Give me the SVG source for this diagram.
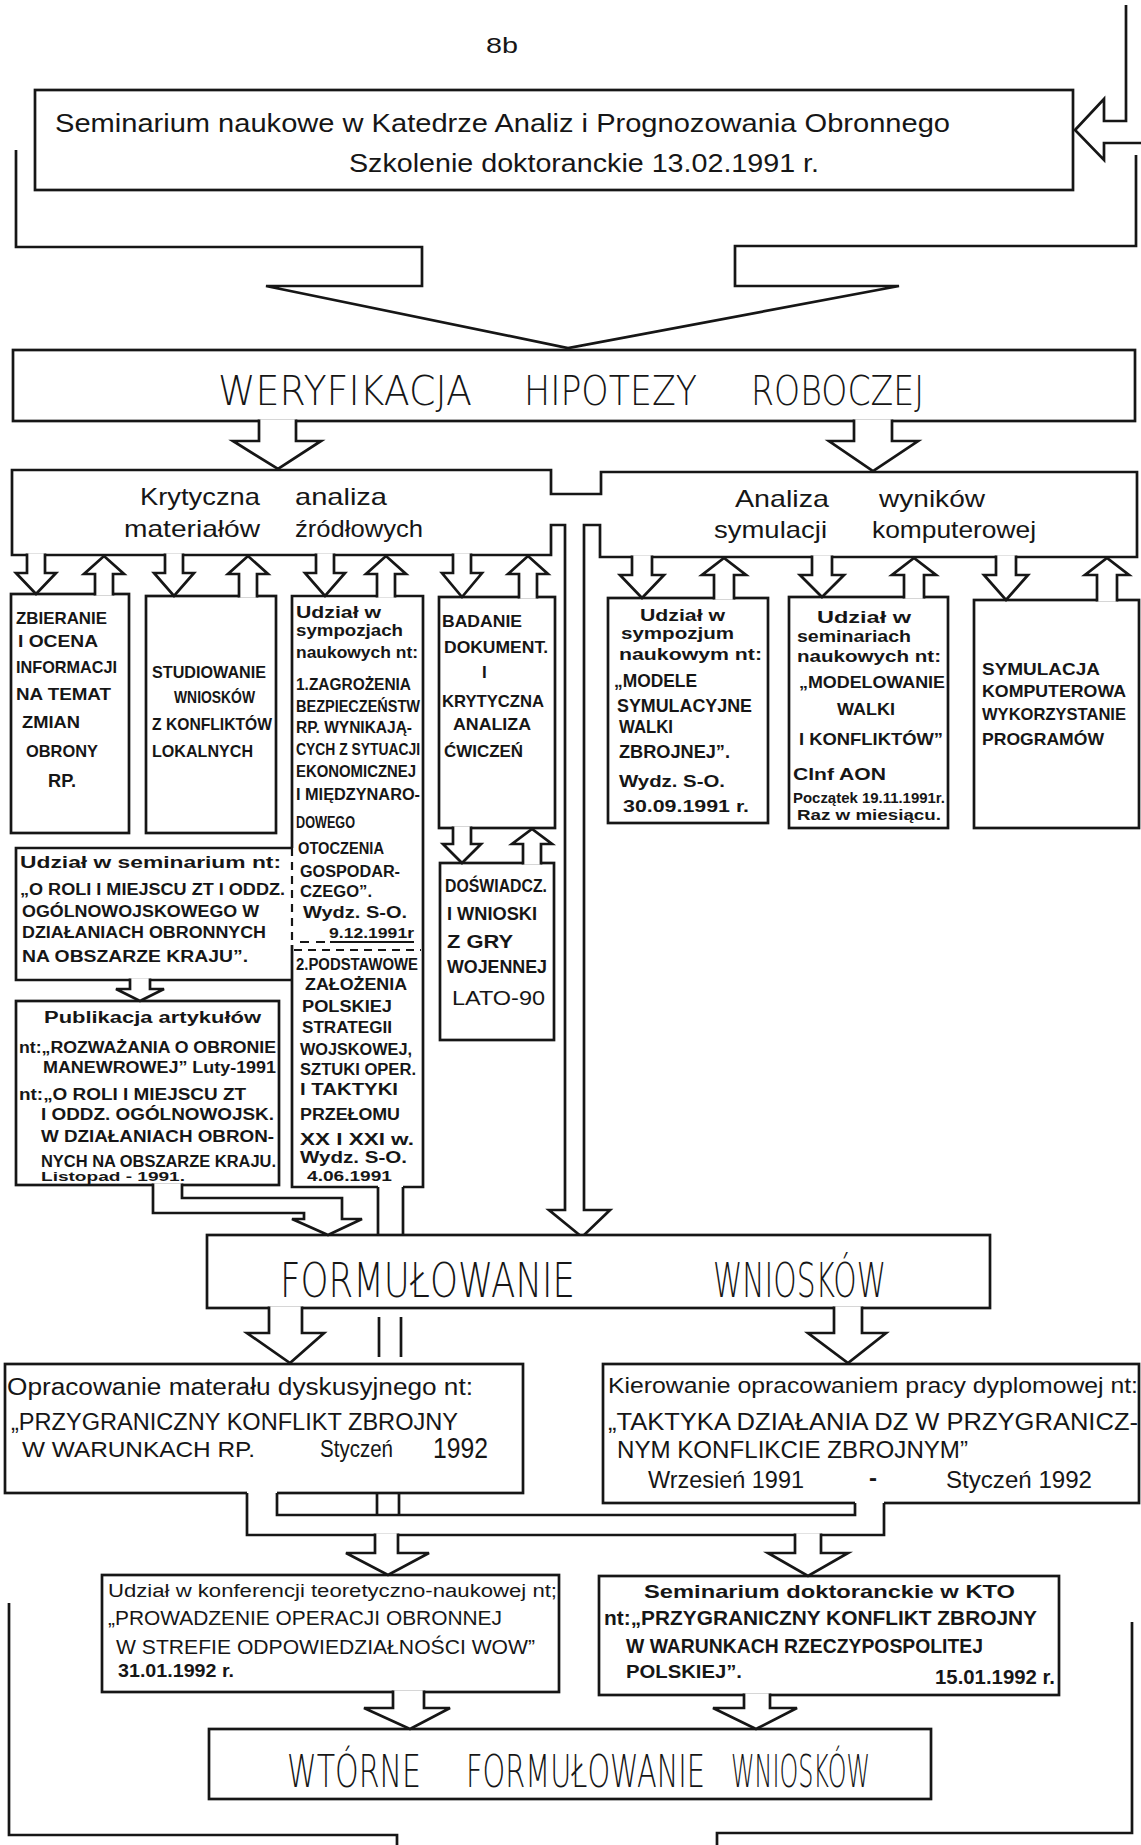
<svg xmlns="http://www.w3.org/2000/svg" width="1141" height="1845" viewBox="0 0 1141 1845">
<style>
.bg{fill:#fff}
.box{fill:#fff;stroke:#161616;stroke-width:2.7}
.ln{fill:none;stroke:#161616;stroke-width:2.7}
.dash{fill:none;stroke:#161616;stroke-width:2.2;stroke-dasharray:8 6}
.arw{fill:#fff;stroke:#161616;stroke-width:2.7;stroke-linejoin:miter}
.wf{fill:#fff;stroke:none}
text{font-family:"Liberation Sans",Arial,sans-serif;fill:#161616}
.h{font-family:"DejaVu Sans","Liberation Sans",sans-serif;font-weight:300}
.b{font-weight:bold}
</style>
<rect class="bg" x="0" y="0" width="1141" height="1845"/>
<text x="486" y="53" font-size="22" textLength="32" lengthAdjust="spacingAndGlyphs">8b</text>

<g id="n-top">
<rect class="box" x="35" y="90" width="1038" height="100"/>
<text x="55" y="132" font-size="26" textLength="895" lengthAdjust="spacingAndGlyphs">Seminarium naukowe w Katedrze Analiz i Prognozowania Obronnego</text>
<text x="349" y="172" font-size="26" textLength="470" lengthAdjust="spacingAndGlyphs">Szkolenie doktoranckie 13.02.1991 r.</text>
</g>

<g id="n-weryfikacja">
<rect class="box" x="13" y="350" width="1122" height="71"/>
<text class="h" x="218" y="405" font-size="41" textLength="254" lengthAdjust="spacingAndGlyphs">WERYFIKACJA</text>
<text class="h" x="524" y="405" font-size="41" textLength="173" lengthAdjust="spacingAndGlyphs">HIPOTEZY</text>
<text class="h" x="751" y="405" font-size="41" textLength="173" lengthAdjust="spacingAndGlyphs">ROBOCZEJ</text>
</g>

<g id="n-analiza">
<path class="box" d="M12 470 H551 V494 H601 V472 H1137 V557 H600 V525 H584 V1210 H610 L582 1237 L549 1210 H565 V525 H551 V555 H12 Z"/>
<text x="140" y="505" font-size="24" textLength="120" lengthAdjust="spacingAndGlyphs">Krytyczna</text>
<text x="295" y="505" font-size="24" textLength="92" lengthAdjust="spacingAndGlyphs">analiza</text>
<text x="124" y="537" font-size="24" textLength="136" lengthAdjust="spacingAndGlyphs">materiałów</text>
<text x="295" y="537" font-size="24" textLength="128" lengthAdjust="spacingAndGlyphs">źródłowych</text>
<text x="735" y="507" font-size="24" textLength="94" lengthAdjust="spacingAndGlyphs">Analiza</text>
<text x="879" y="507" font-size="24" textLength="106" lengthAdjust="spacingAndGlyphs">wyników</text>
<text x="714" y="538" font-size="24" textLength="113" lengthAdjust="spacingAndGlyphs">symulacji</text>
<text x="872" y="538" font-size="24" textLength="164" lengthAdjust="spacingAndGlyphs">komputerowej</text>
</g>

<g id="n-zbieranie">
<rect class="box" x="11" y="594" width="118" height="239"/>
<text class="b" x="16" y="624" font-size="17" textLength="91" lengthAdjust="spacingAndGlyphs">ZBIERANIE</text>
<text class="b" x="18" y="647" font-size="17" textLength="80" lengthAdjust="spacingAndGlyphs">I OCENA</text>
<text class="b" x="16" y="673" font-size="17" textLength="101" lengthAdjust="spacingAndGlyphs">INFORMACJI</text>
<text class="b" x="16" y="700" font-size="17" textLength="95" lengthAdjust="spacingAndGlyphs">NA TEMAT</text>
<text class="b" x="22" y="728" font-size="17" textLength="58" lengthAdjust="spacingAndGlyphs">ZMIAN</text>
<text class="b" x="26" y="757" font-size="17" textLength="72" lengthAdjust="spacingAndGlyphs">OBRONY</text>
<text class="b" x="48" y="787" font-size="18" textLength="28" lengthAdjust="spacingAndGlyphs">RP.</text>
</g>

<g id="n-studiowanie">
<rect class="box" x="146" y="596" width="130" height="237"/>
<text class="b" x="152" y="678" font-size="17" textLength="114" lengthAdjust="spacingAndGlyphs">STUDIOWANIE</text>
<text class="b" x="174" y="703" font-size="17" textLength="81" lengthAdjust="spacingAndGlyphs">WNIOSKÓW</text>
<text class="b" x="152" y="730" font-size="17" textLength="120" lengthAdjust="spacingAndGlyphs">Z KONFLIKTÓW</text>
<text class="b" x="152" y="757" font-size="17" textLength="101" lengthAdjust="spacingAndGlyphs">LOKALNYCH</text>
</g>

<g id="n-sympozja">
<path class="ln" d="M292 945 V1187 H378 M403 1187 H423 V596 H292 V848"/>
<path class="dash" d="M292 848 V945"/>
<path class="dash" d="M294 950 H421"/>
<path class="ln" d="M300 942 H309 M316 942 H325 M330 942 H414" style="stroke-width:1.8"/>
<text class="b" x="296" y="618" font-size="17" textLength="85" lengthAdjust="spacingAndGlyphs">Udział w</text>
<text class="b" x="296" y="636" font-size="17" textLength="107" lengthAdjust="spacingAndGlyphs">sympozjach</text>
<text class="b" x="296" y="658" font-size="17" textLength="122" lengthAdjust="spacingAndGlyphs">naukowych nt:</text>
<text class="b" x="296" y="690" font-size="16" textLength="115" lengthAdjust="spacingAndGlyphs">1.ZAGROŻENIA</text>
<text class="b" x="296" y="712" font-size="16" textLength="124" lengthAdjust="spacingAndGlyphs">BEZPIECZEŃSTW</text>
<text class="b" x="296" y="733" font-size="16" textLength="116" lengthAdjust="spacingAndGlyphs">RP. WYNIKAJĄ-</text>
<text class="b" x="296" y="755" font-size="16" textLength="124" lengthAdjust="spacingAndGlyphs">CYCH Z SYTUACJI</text>
<text class="b" x="296" y="777" font-size="16" textLength="120" lengthAdjust="spacingAndGlyphs">EKONOMICZNEJ</text>
<text class="b" x="296" y="800" font-size="16" textLength="124" lengthAdjust="spacingAndGlyphs">I MIĘDZYNARO-</text>
<text class="b" x="296" y="828" font-size="16" textLength="59" lengthAdjust="spacingAndGlyphs">DOWEGO</text>
<text class="b" x="298" y="854" font-size="16" textLength="86" lengthAdjust="spacingAndGlyphs">OTOCZENIA</text>
<text class="b" x="300" y="877" font-size="16" textLength="100" lengthAdjust="spacingAndGlyphs">GOSPODAR-</text>
<text class="b" x="300" y="897" font-size="16" textLength="72" lengthAdjust="spacingAndGlyphs">CZEGO”.</text>
<text class="b" x="303" y="918" font-size="16" textLength="104" lengthAdjust="spacingAndGlyphs">Wydz. S-O.</text>
<text class="b" x="329" y="938" font-size="15" textLength="85" lengthAdjust="spacingAndGlyphs">9.12.1991r</text>
<text class="b" x="296" y="970" font-size="16" textLength="122" lengthAdjust="spacingAndGlyphs">2.PODSTAWOWE</text>
<text class="b" x="305" y="990" font-size="16" textLength="102" lengthAdjust="spacingAndGlyphs">ZAŁOŻENIA</text>
<text class="b" x="302" y="1012" font-size="16" textLength="90" lengthAdjust="spacingAndGlyphs">POLSKIEJ</text>
<text class="b" x="302" y="1033" font-size="16" textLength="90" lengthAdjust="spacingAndGlyphs">STRATEGII</text>
<text class="b" x="300" y="1055" font-size="16" textLength="112" lengthAdjust="spacingAndGlyphs">WOJSKOWEJ,</text>
<text class="b" x="300" y="1075" font-size="16" textLength="116" lengthAdjust="spacingAndGlyphs">SZTUKI OPER.</text>
<text class="b" x="300" y="1095" font-size="16" textLength="98" lengthAdjust="spacingAndGlyphs">I TAKTYKI</text>
<text class="b" x="300" y="1120" font-size="16" textLength="100" lengthAdjust="spacingAndGlyphs">PRZEŁOMU</text>
<text class="b" x="300" y="1145" font-size="16" textLength="114" lengthAdjust="spacingAndGlyphs">XX I XXI w.</text>
<text class="b" x="300" y="1163" font-size="16" textLength="107" lengthAdjust="spacingAndGlyphs">Wydz. S-O.</text>
<text class="b" x="307" y="1181" font-size="15" textLength="85" lengthAdjust="spacingAndGlyphs">4.06.1991</text>
</g>

<g id="n-badanie">
<rect class="box" x="439" y="597" width="116" height="231"/>
<text class="b" x="442" y="627" font-size="17" textLength="80" lengthAdjust="spacingAndGlyphs">BADANIE</text>
<text class="b" x="444" y="653" font-size="17" textLength="104" lengthAdjust="spacingAndGlyphs">DOKUMENT.</text>
<text class="b" x="482" y="678" font-size="17">I</text>
<text class="b" x="442" y="707" font-size="17" textLength="102" lengthAdjust="spacingAndGlyphs">KRYTYCZNA</text>
<text class="b" x="453" y="730" font-size="17" textLength="78" lengthAdjust="spacingAndGlyphs">ANALIZA</text>
<text class="b" x="444" y="757" font-size="17" textLength="79" lengthAdjust="spacingAndGlyphs">ĆWICZEŃ</text>
</g>

<g id="n-doswiadcz">
<rect class="box" x="440" y="863" width="114" height="177"/>
<text class="b" x="445" y="892" font-size="18" textLength="102" lengthAdjust="spacingAndGlyphs">DOŚWIADCZ.</text>
<text class="b" x="447" y="920" font-size="18" textLength="90" lengthAdjust="spacingAndGlyphs">I WNIOSKI</text>
<text class="b" x="447" y="948" font-size="18" textLength="66" lengthAdjust="spacingAndGlyphs">Z GRY</text>
<text class="b" x="447" y="973" font-size="18" textLength="100" lengthAdjust="spacingAndGlyphs">WOJENNEJ</text>
<text x="452" y="1005" font-size="21" textLength="93" lengthAdjust="spacingAndGlyphs">LATO-90</text>
</g>

<g id="n-seminarium">
<path class="ln" d="M292 848 H16 V980 H292"/>
<text class="b" x="20" y="868" font-size="16" textLength="261" lengthAdjust="spacingAndGlyphs">Udział w seminarium nt:</text>
<text class="b" x="20" y="895" font-size="16" textLength="265" lengthAdjust="spacingAndGlyphs">„O ROLI I MIEJSCU ZT I ODDZ.</text>
<text class="b" x="22" y="917" font-size="16" textLength="237" lengthAdjust="spacingAndGlyphs">OGÓLNOWOJSKOWEGO W</text>
<text class="b" x="22" y="938" font-size="16" textLength="244" lengthAdjust="spacingAndGlyphs">DZIAŁANIACH OBRONNYCH</text>
<text class="b" x="22" y="962" font-size="16" textLength="226" lengthAdjust="spacingAndGlyphs">NA OBSZARZE KRAJU”.</text>
</g>

<g id="n-publikacja">
<rect class="box" x="16" y="1001" width="263" height="184"/>
<text class="b" x="44" y="1023" font-size="16" textLength="217" lengthAdjust="spacingAndGlyphs">Publikacja artykułów</text>
<text class="b" x="19" y="1053" font-size="16" textLength="257" lengthAdjust="spacingAndGlyphs">nt:„ROZWAŻANIA O OBRONIE</text>
<text class="b" x="43" y="1073" font-size="16" textLength="233" lengthAdjust="spacingAndGlyphs">MANEWROWEJ” Luty-1991</text>
<text class="b" x="19" y="1100" font-size="16" textLength="227" lengthAdjust="spacingAndGlyphs">nt:„O ROLI I MIEJSCU ZT</text>
<text class="b" x="41" y="1120" font-size="16" textLength="233" lengthAdjust="spacingAndGlyphs">I ODDZ. OGÓLNOWOJSK.</text>
<text class="b" x="41" y="1142" font-size="16" textLength="233" lengthAdjust="spacingAndGlyphs">W DZIAŁANIACH OBRON-</text>
<text class="b" x="41" y="1167" font-size="16" textLength="235" lengthAdjust="spacingAndGlyphs">NYCH NA OBSZARZE KRAJU.</text>
<text class="b" x="41" y="1181" font-size="13" textLength="144" lengthAdjust="spacingAndGlyphs">Listopad - 1991.</text>
</g>

<g id="n-a1">
<rect class="box" x="608" y="598" width="160" height="225"/>
<text class="b" x="640" y="621" font-size="16" textLength="85" lengthAdjust="spacingAndGlyphs">Udział w</text>
<text class="b" x="621" y="639" font-size="16" textLength="113" lengthAdjust="spacingAndGlyphs">sympozjum</text>
<text class="b" x="619" y="660" font-size="16" textLength="143" lengthAdjust="spacingAndGlyphs">naukowym nt:</text>
<text class="b" x="614" y="687" font-size="18" textLength="83" lengthAdjust="spacingAndGlyphs">„MODELE</text>
<text class="b" x="617" y="712" font-size="18" textLength="135" lengthAdjust="spacingAndGlyphs">SYMULACYJNE</text>
<text class="b" x="619" y="733" font-size="18" textLength="54" lengthAdjust="spacingAndGlyphs">WALKI</text>
<text class="b" x="619" y="758" font-size="18" textLength="111" lengthAdjust="spacingAndGlyphs">ZBROJNEJ”.</text>
<text class="b" x="619" y="787" font-size="17" textLength="106" lengthAdjust="spacingAndGlyphs">Wydz. S-O.</text>
<text class="b" x="623" y="812" font-size="17" textLength="126" lengthAdjust="spacingAndGlyphs">30.09.1991 r.</text>
</g>

<g id="n-a2">
<rect class="box" x="789" y="597" width="159" height="231"/>
<text class="b" x="817" y="623" font-size="16" textLength="94" lengthAdjust="spacingAndGlyphs">Udział w</text>
<text class="b" x="797" y="642" font-size="16" textLength="114" lengthAdjust="spacingAndGlyphs">seminariach</text>
<text class="b" x="797" y="662" font-size="16" textLength="144" lengthAdjust="spacingAndGlyphs">naukowych nt:</text>
<text class="b" x="799" y="688" font-size="17" textLength="146" lengthAdjust="spacingAndGlyphs">„MODELOWANIE</text>
<text class="b" x="837" y="715" font-size="17" textLength="58" lengthAdjust="spacingAndGlyphs">WALKI</text>
<text class="b" x="799" y="745" font-size="17" textLength="144" lengthAdjust="spacingAndGlyphs">I KONFLIKTÓW”</text>
<text class="b" x="793" y="780" font-size="17" textLength="93" lengthAdjust="spacingAndGlyphs">CInf AON</text>
<text class="b" x="793" y="803" font-size="14" textLength="152" lengthAdjust="spacingAndGlyphs">Początek 19.11.1991r.</text>
<text class="b" x="797" y="820" font-size="15" textLength="144" lengthAdjust="spacingAndGlyphs">Raz w miesiącu.</text>
</g>

<g id="n-a3">
<rect class="box" x="974" y="600" width="165" height="228"/>
<text class="b" x="982" y="675" font-size="17" textLength="118" lengthAdjust="spacingAndGlyphs">SYMULACJA</text>
<text class="b" x="982" y="697" font-size="17" textLength="144" lengthAdjust="spacingAndGlyphs">KOMPUTEROWA</text>
<text class="b" x="982" y="720" font-size="17" textLength="144" lengthAdjust="spacingAndGlyphs">WYKORZYSTANIE</text>
<text class="b" x="982" y="745" font-size="17" textLength="122" lengthAdjust="spacingAndGlyphs">PROGRAMÓW</text>
</g>

<g id="n-formulowanie">
<rect class="box" x="207" y="1235" width="783" height="73"/>
<text class="h" x="280" y="1297" font-size="48" textLength="295" lengthAdjust="spacingAndGlyphs">FORMUŁOWANIE</text>
<text class="h" x="713" y="1297" font-size="48" textLength="173" lengthAdjust="spacingAndGlyphs">WNIOSKÓW</text>
</g>

<g id="n-opracowanie">
<rect class="box" x="5" y="1364" width="518" height="129"/>
<text x="7" y="1395" font-size="23" textLength="466" lengthAdjust="spacingAndGlyphs">Opracowanie materału dyskusyjnego nt:</text>
<text x="11" y="1430" font-size="23" textLength="447" lengthAdjust="spacingAndGlyphs">„PRZYGRANICZNY KONFLIKT ZBROJNY</text>
<text x="22" y="1457" font-size="22" textLength="233" lengthAdjust="spacingAndGlyphs">W WARUNKACH RP.</text>
<text x="320" y="1457" font-size="24" textLength="73" lengthAdjust="spacingAndGlyphs">Styczeń</text>
<text x="433" y="1458" font-size="29" textLength="55" lengthAdjust="spacingAndGlyphs">1992</text>
</g>

<g id="n-kierowanie">
<rect class="box" x="603" y="1364" width="536" height="139"/>
<text x="608" y="1393" font-size="22" textLength="530" lengthAdjust="spacingAndGlyphs">Kierowanie opracowaniem pracy dyplomowej nt:</text>
<text x="608" y="1430" font-size="23" textLength="530" lengthAdjust="spacingAndGlyphs">„TAKTYKA DZIAŁANIA DZ W PRZYGRANICZ-</text>
<text x="617" y="1458" font-size="23" textLength="351" lengthAdjust="spacingAndGlyphs">NYM KONFLIKCIE ZBROJNYM”</text>
<text x="648" y="1488" font-size="24" textLength="156" lengthAdjust="spacingAndGlyphs">Wrzesień 1991</text>
<text x="869" y="1486" font-size="24" class="b">-</text>
<text x="946" y="1488" font-size="24" textLength="146" lengthAdjust="spacingAndGlyphs">Styczeń 1992</text>
</g>

<g id="n-konferencja">
<rect class="box" x="102" y="1575" width="457" height="117"/>
<text x="108" y="1597" font-size="18" textLength="449" lengthAdjust="spacingAndGlyphs">Udział w konferencji teoretyczno-naukowej nt;</text>
<text x="108" y="1625" font-size="20" textLength="394" lengthAdjust="spacingAndGlyphs">„PROWADZENIE OPERACJI OBRONNEJ</text>
<text x="116" y="1654" font-size="21" textLength="419" lengthAdjust="spacingAndGlyphs">W STREFIE ODPOWIEDZIAŁNOŚCI WOW”</text>
<text class="b" x="118" y="1677" font-size="18" textLength="116" lengthAdjust="spacingAndGlyphs">31.01.1992 r.</text>
</g>

<g id="n-kto">
<rect class="box" x="599" y="1576" width="460" height="119"/>
<text class="b" x="644" y="1598" font-size="19" textLength="371" lengthAdjust="spacingAndGlyphs">Seminarium doktoranckie w KTO</text>
<text class="b" x="604" y="1625" font-size="20" textLength="433" lengthAdjust="spacingAndGlyphs">nt:„PRZYGRANICZNY KONFLIKT ZBROJNY</text>
<text class="b" x="626" y="1653" font-size="20" textLength="357" lengthAdjust="spacingAndGlyphs">W WARUNKACH RZECZYPOSPOLITEJ</text>
<text class="b" x="626" y="1678" font-size="18" textLength="116" lengthAdjust="spacingAndGlyphs">POLSKIEJ”.</text>
<text class="b" x="935" y="1684" font-size="20" textLength="120" lengthAdjust="spacingAndGlyphs">15.01.1992 r.</text>
</g>

<g id="n-wtorne">
<rect class="box" x="209" y="1729" width="722" height="70"/>
<text class="h" x="287" y="1787" font-size="44" textLength="134" lengthAdjust="spacingAndGlyphs">WTÓRNE</text>
<text class="h" x="466" y="1787" font-size="44" textLength="239" lengthAdjust="spacingAndGlyphs">FORMUŁOWANIE</text>
<text class="h" x="731" y="1787" font-size="44" textLength="139" lengthAdjust="spacingAndGlyphs">WNIOSKÓW</text>
</g>

<g id="connectors">
<polyline class="ln" points="16,150 16,247 422,247 422,286 266,286 568,348 899,286 735,286 735,246 1136,246 1136,155"/>
<polyline class="ln" points="1126,5 1126,121 1104,121 1104,99 1075,130 1104,160 1104,143 1141,143"/>
<path class="arw" d="M259 419.5 V441 H233 L278 469 L321 441 H296 V419.5"/>
<path class="arw" d="M854 419.5 V441 H829 L873 471 L918 441 H892 V419.5"/>
<path class="arw" d="M27 553.5 V573 H16 L36 594 L56 573 H45 V553.5"/>
<path class="arw" d="M165 553.5 V573 H154 L174 596 L194 573 H183 V553.5"/>
<path class="arw" d="M316 553.5 V573 H305 L325 596 L345 573 H334 V553.5"/>
<path class="arw" d="M453 553.5 V573 H442 L462 597 L482 573 H471 V553.5"/>
<path class="arw" d="M95 595.5 V574 H84 L104 556 L124 574 H113 V595.5"/>
<path class="arw" d="M239 597.5 V574 H228 L248 556 L268 574 H257 V597.5"/>
<path class="arw" d="M377 597.5 V574 H366 L386 556 L406 574 H395 V597.5"/>
<path class="arw" d="M519 598.5 V574 H508 L528 556 L548 574 H537 V598.5"/>
<path class="arw" d="M632 555.5 V575 H620 L642 598 L664 575 H652 V555.5"/>
<path class="arw" d="M812 555.5 V575 H800 L822 597 L844 575 H832 V555.5"/>
<path class="arw" d="M996 555.5 V575 H984 L1006 600 L1028 575 H1016 V555.5"/>
<path class="arw" d="M714 599.5 V575 H702 L724 558 L746 575 H734 V599.5"/>
<path class="arw" d="M904 598.5 V575 H892 L914 558 L936 575 H924 V598.5"/>
<path class="arw" d="M1097 601.5 V575 H1085 L1107 558 L1129 575 H1117 V601.5"/>
<path class="arw" d="M453 826.5 V844 H443 L462 863 L481 844 H471 V826.5"/>
<path class="arw" d="M523 864.5 V844 H512 L532 829 L552 844 H541 V864.5"/>
<path class="arw" d="M130 978.5 V989 H116 L140 1001 L164 989 H150 V978.5"/>
<path class="arw" d="M153 1183.5 V1213 H304 V1219 H292 L328 1235 L362 1219 H342 V1198 H182 V1183.5"/>
<path class="ln" d="M378 1187 V1235 M403 1187 V1235"/>
<path class="ln" d="M379 1317 V1357 M401 1317 V1357"/>
<path class="arw" d="M269 1306.5 V1333 H247 L290 1363 L324 1333 H302 V1306.5"/>
<path class="arw" d="M834 1306.5 V1333 H808 L848 1363 L886 1333 H862 V1306.5"/>
<path class="wf" d="M247 1491 V1535 H884 V1501 H855 V1515 H277 V1491 Z"/>
<path class="ln" d="M247 1493 V1535 H884 V1503"/>
<path class="ln" d="M277 1493 V1515 H855 V1503"/>
<path class="ln" d="M377 1493 V1515 M399 1493 V1515"/>
<path class="arw" d="M375 1533.5 V1553 H346 L388 1575 L429 1553 H398 V1533.5"/>
<path class="arw" d="M795 1533.5 V1553 H768 L808 1576 L848 1553 H821 V1533.5"/>
<path class="arw" d="M393 1690.5 V1708 H364 L410 1729 L450 1708 H424 V1690.5"/>
<path class="arw" d="M744 1693.5 V1708 H713 L756 1729 L797 1708 H770 V1693.5"/>
<path class="ln" d="M9 1603 V1835 H397 V1845"/>
<path class="ln" d="M1132 1622 V1833 H717 V1845"/>
</g>
</svg>
